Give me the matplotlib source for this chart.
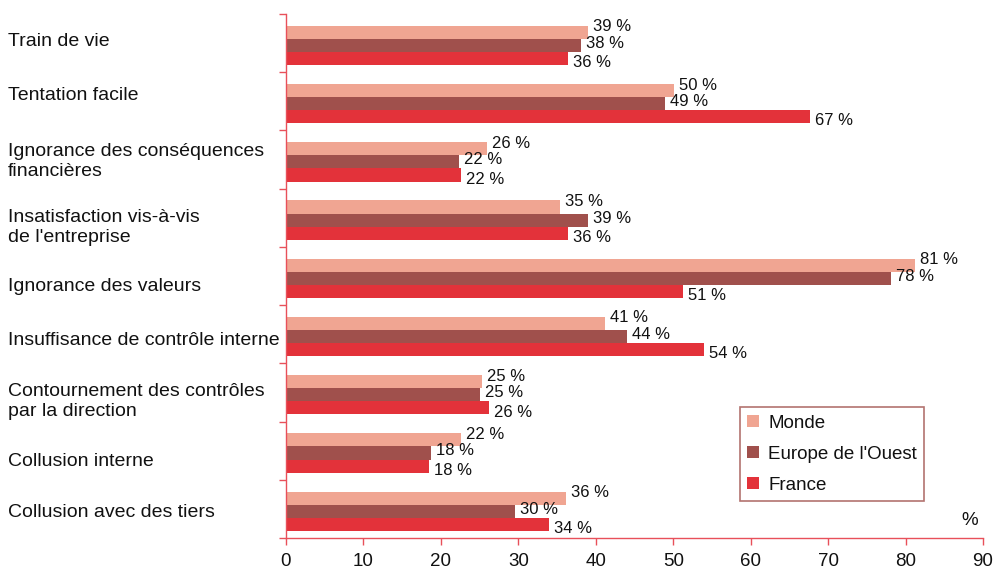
import matplotlib
matplotlib.use("Agg")
import matplotlib.pyplot as plt
import matplotlib.transforms as mtransforms
import numpy as np

plt.rcParams['font.family'] = ['Liberation Sans', 'DejaVu Sans']

categories = [
    "Train de vie",
    "Tentation facile",
    "Ignorance des conséquences\nfinancières",
    "Insatisfaction vis-à-vis\nde l'entreprise",
    "Ignorance des valeurs",
    "Insuffisance de contrôle interne",
    "Contournement des contrôles\npar la direction",
    "Collusion interne",
    "Collusion avec des tiers",
]
# bar lengths
monde = [39.0, 50.1, 26.0, 35.4, 81.2, 41.2, 25.3, 22.6, 36.2]
europe = [38.1, 48.9, 22.3, 39.0, 78.1, 44.0, 25.1, 18.7, 29.6]
france = [36.4, 67.7, 22.6, 36.4, 51.3, 54.0, 26.2, 18.5, 34.0]
# printed labels
monde_labels = [39, 50, 26, 35, 81, 41, 25, 22, 36]
europe_labels = [38, 49, 22, 39, 78, 44, 25, 18, 30]
france_labels = [36, 67, 22, 36, 51, 54, 26, 18, 34]
series_names = ["Monde", "Europe de l'Ouest", "France"]
xticks = [0, 10, 20, 30, 40, 50, 60, 70, 80, 90]

colors = ["#f0a592", "#a0504c", "#e3323a"]
axis_color = "#e8505a"
text_color = "#111111"

fig = plt.figure(figsize=(9.95, 5.7), dpi=100)
ax = fig.add_axes([286/995, 1-538/570, (983-286)/995, (538-14)/570])

y = np.arange(len(categories))
h = 0.225
offsets = [-h, 0, h]
dys = [4.0, 1.5, -3.0]
for vals, labs, off, col, name, dy in zip([monde, europe, france],
                                          [monde_labels, europe_labels, france_labels],
                                          offsets, colors, series_names, dys):
    ys = y + off + 0.04
    ax.barh(ys, vals, height=h, color=col, label=name, edgecolor='none')
    for yy, v, lab in zip(ys, vals, labs):
        ax.annotate(f"{lab} %", xy=(v, yy), xytext=(3.5, dy), textcoords='offset points',
                    ha='left', va='center', fontsize=12, color=text_color)

ax.set_ylim(len(categories) - 0.5, -0.5)
ax.set_xlim(0, 90)
ax.set_xticks(xticks)
ax.set_xticklabels([str(t) for t in xticks], fontsize=13.5, color=text_color)
ax.set_yticks(np.arange(-0.5, len(categories), 1.0))
ax.set_yticklabels([])
ax.tick_params(axis='y', direction='out', length=5, color=axis_color, width=1)
ax.tick_params(axis='x', direction='out', length=5, color=axis_color, width=1, pad=6)
for s in ['top', 'right']:
    ax.spines[s].set_visible(False)
for s in ['left', 'bottom']:
    ax.spines[s].set_color(axis_color)
    ax.spines[s].set_linewidth(1)

# category labels, left aligned at the figure edge (small vertical nudges in px)
nudge_px = [-2, -6, 2, 10, 10, 6, 9, 11, 4]
for yy, cat, nd in zip(y, categories, nudge_px):
    tr = mtransforms.blended_transform_factory(fig.transFigure, ax.transData) + \
        mtransforms.ScaledTranslation(0, -nd / 100, fig.dpi_scale_trans)
    ax.text(8/995, yy, cat, transform=tr, ha='left', va='center',
            fontsize=14, color=text_color, linespacing=1.2)

ax.text((978-286)/697, (538-529)/524, "%", transform=ax.transAxes,
        ha='right', va='bottom', fontsize=13.5, color=text_color)

leg = ax.legend(loc='upper left', bbox_to_anchor=((740-286)/697, 1-(407-14)/524),
                frameon=True, fancybox=False, shadow=False, fontsize=13.5,
                handlelength=0.6, handleheight=0.6, handletextpad=0.5,
                labelspacing=0.75, borderpad=0.4, borderaxespad=0)
leg.get_frame().set_edgecolor("#a0504c")
leg.get_frame().set_linewidth(1.2)
for t in leg.get_texts():
    t.set_color(text_color)

fig.savefig("out.png", dpi=100)
